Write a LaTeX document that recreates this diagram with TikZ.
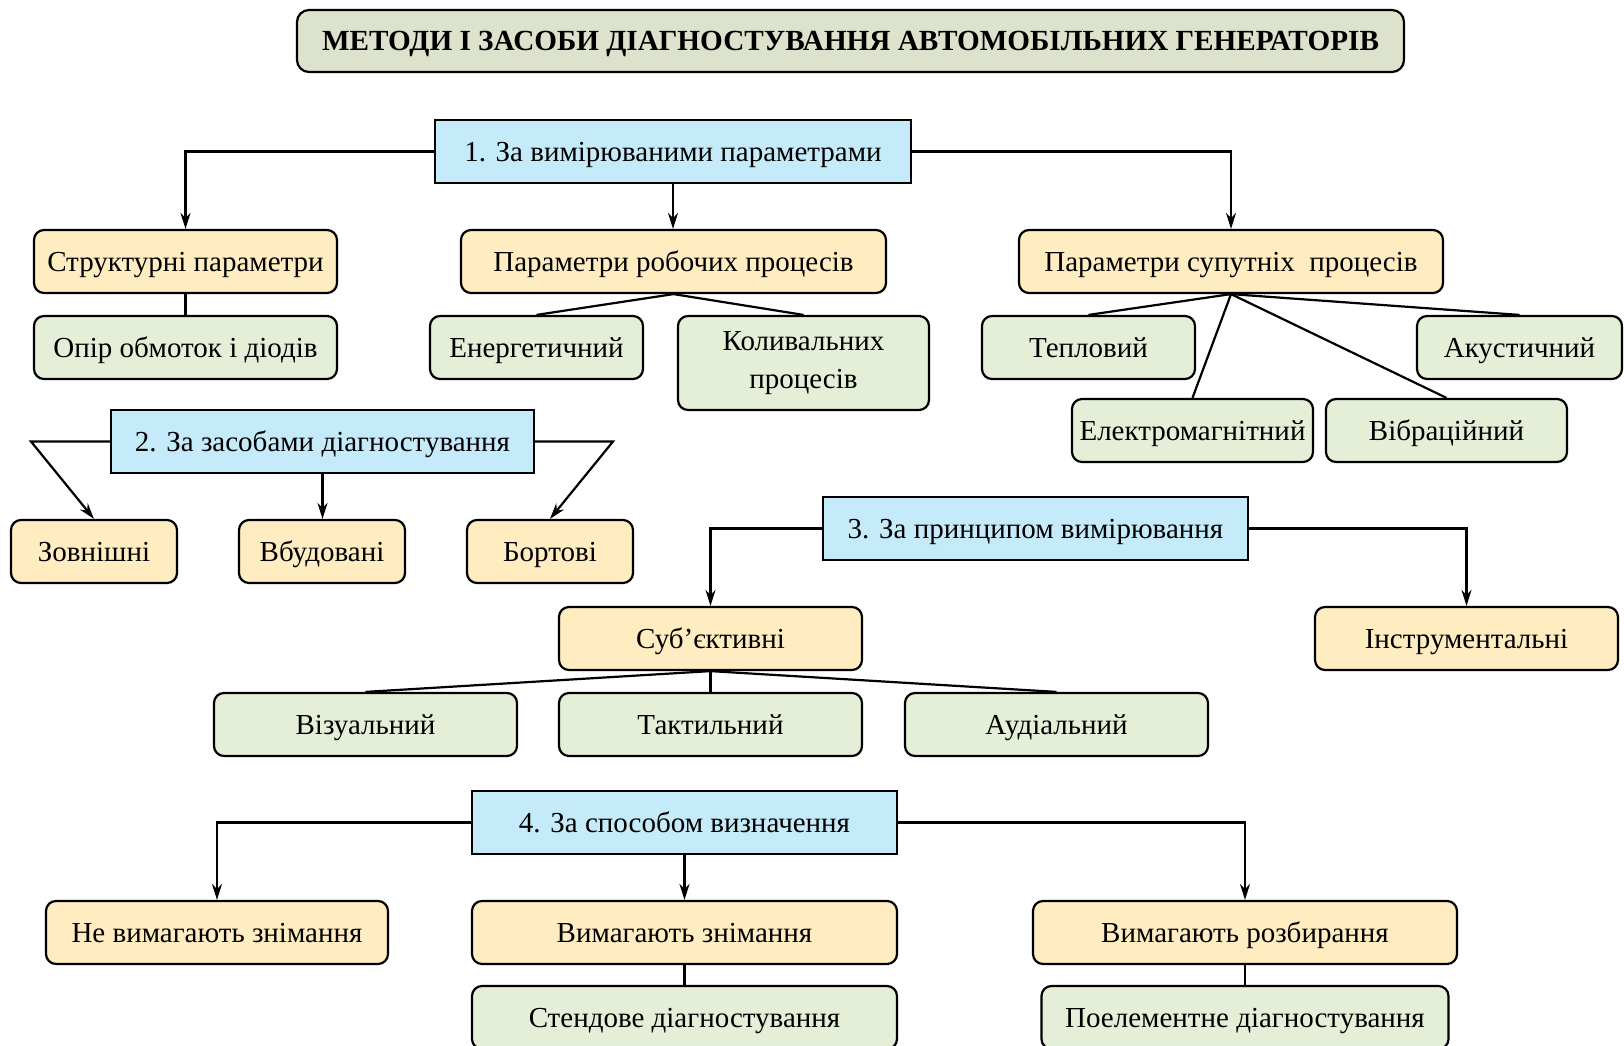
\documentclass[tikz,border=0pt]{standalone}
\usepackage{fontspec}
\setmainfont{Liberation Serif}
\usetikzlibrary{arrows.meta}
\definecolor{titlefill}{RGB}{221,226,204}
\definecolor{bluefill}{RGB}{197,235,250}
\definecolor{yelfill}{RGB}{255,237,193}
\definecolor{grnfill}{RGB}{229,239,216}
\begin{document}
\begin{tikzpicture}[x=1pt,y=-1pt,
  every node/.style={inner sep=0pt, font=\fontsize{29}{34}\selectfont,
    text height=24pt, text depth=4pt},
  titlebox/.style={draw, line width=2.2pt, rounded corners=12pt, fill=titlefill,
    minimum width=1107pt, minimum height=62pt, font=\fontsize{29.2}{32}\selectfont\bfseries},
  groupbox/.style={draw, line width=2.2pt, fill=bluefill, minimum height=63pt},
  kindbox/.style={draw, line width=2.2pt, rounded corners=10pt, fill=yelfill, minimum height=63pt},
  leafbox/.style={draw, line width=2.2pt, rounded corners=10pt, fill=grnfill, minimum height=63pt},
  arr/.style={line width=2.2pt, -{Stealth[length=16pt,width=10pt]}},
  link/.style={line width=2.2pt}]
\useasboundingbox (0,0) rectangle (1624,1046);

% title
\node[titlebox] (title) at (850.5,41) {МЕТОДИ І ЗАСОБИ ДІАГНОСТУВАННЯ АВТОМОБІЛЬНИХ ГЕНЕРАТОРІВ};

% group 1
\node[groupbox, minimum width=476pt] (b1) at (673,151.5) {1. За вимірюваними параметрами};
\node[kindbox, minimum width=303pt] (s1) at (185.5,261.5) {Структурні параметри};
\node[kindbox, minimum width=425pt] (p1) at (673.5,261.5) {Параметри робочих процесів};
\node[kindbox, minimum width=424pt] (p2) at (1231,261.5) {Параметри супутніх\ \ процесів};
\node[leafbox, minimum width=303pt] (opir) at (185.5,347.5) {Опір обмоток і діодів};
\node[leafbox, minimum width=213pt] (energ) at (536.5,347.5) {Енергетичний};
\node[leafbox, minimum width=251pt, minimum height=94pt, align=center,
  text height=, text depth=, font=\fontsize{29}{38}\selectfont] (koliv) at (803.5,363) {Коливальних\\процесів};
\node[leafbox, minimum width=213pt] (tepl) at (1088.5,347.5) {Тепловий};
\node[leafbox, minimum width=205pt] (akust) at (1519.5,347.5) {Акустичний};
\node[leafbox, minimum width=241pt] (elmag) at (1192.5,430.5) {Електромагнітний};
\node[leafbox, minimum width=241pt] (vibr) at (1446.5,430.5) {Вібраційний};

\draw[arr] (b1.west) -| (s1.north);
\draw[arr] (b1.south) -- (b1.south |- p1.north);
\draw[arr] (b1.east) -| (p2.north);
\draw[link] (s1.south) -- (opir.north);
\draw[link] (p1.south) -- (energ.north);
\draw[link] (p1.south) -- (koliv.north);
\draw[link] (p2.south) -- (tepl.north);
\draw[link] (p2.south) -- (elmag.north);
\draw[link] (p2.south) -- (vibr.north);
\draw[link] (p2.south) -- (akust.north);

% group 2
\node[groupbox, minimum width=423pt] (b2) at (322.5,441.5) {2. За засобами діагностування};
\node[kindbox, minimum width=166pt] (zovn) at (94,551.5) {Зовнішні};
\node[kindbox, minimum width=166pt] (vbud) at (322,551.5) {Вбудовані};
\node[kindbox, minimum width=166pt] (bort) at (550,551.5) {Бортові};
\coordinate (b2l) at (31,441.5);
\coordinate (b2r) at (613,441.5);
\draw[arr] (b2.west) -- (b2l) -- (zovn.north);
\draw[arr] (b2.south) -- (b2.south |- vbud.north);
\draw[arr] (b2.east) -- (b2r) -- (bort.north);

% group 3
\node[groupbox, minimum width=425pt] (b3) at (1035.5,528.5) {3. За принципом вимірювання};
\node[kindbox, minimum width=303pt] (subj) at (710.5,638.5) {Суб’єктивні};
\node[kindbox, minimum width=303pt] (instr) at (1466.5,638.5) {Інструментальні};
\node[leafbox, minimum width=303pt] (vizu) at (365.5,724.5) {Візуальний};
\node[leafbox, minimum width=303pt] (takt) at (710.5,724.5) {Тактильний};
\node[leafbox, minimum width=303pt] (audi) at (1056.5,724.5) {Аудіальний};
\draw[arr] (b3.west) -| (subj.north);
\draw[arr] (b3.east) -| (instr.north);
\draw[link] (subj.south) -- (vizu.north);
\draw[link] (subj.south) -- (takt.north);
\draw[link] (subj.south) -- (audi.north);

% group 4
\node[groupbox, minimum width=425pt] (b4) at (684.5,822.5) {4. За способом визначення};
\node[kindbox, minimum width=342pt] (ne) at (217,932.5) {Не вимагають знімання};
\node[kindbox, minimum width=425pt] (vym) at (684.5,932.5) {Вимагають знімання};
\node[kindbox, minimum width=424pt] (rozb) at (1245,932.5) {Вимагають розбирання};
\node[leafbox, minimum width=425pt] (stend) at (684.5,1017.5) {Стендове діагностування};
\node[leafbox, minimum width=407pt] (poel) at (1245,1017.5) {Поелементне діагностування};
\draw[arr] (b4.west) -| (ne.north);
\draw[arr] (b4.south) -- (b4.south |- vym.north);
\draw[arr] (b4.east) -| (rozb.north);
\draw[link] (vym.south) -- (stend.north);
\draw[link] (rozb.south) -- (poel.north);
\end{tikzpicture}
\end{document}
